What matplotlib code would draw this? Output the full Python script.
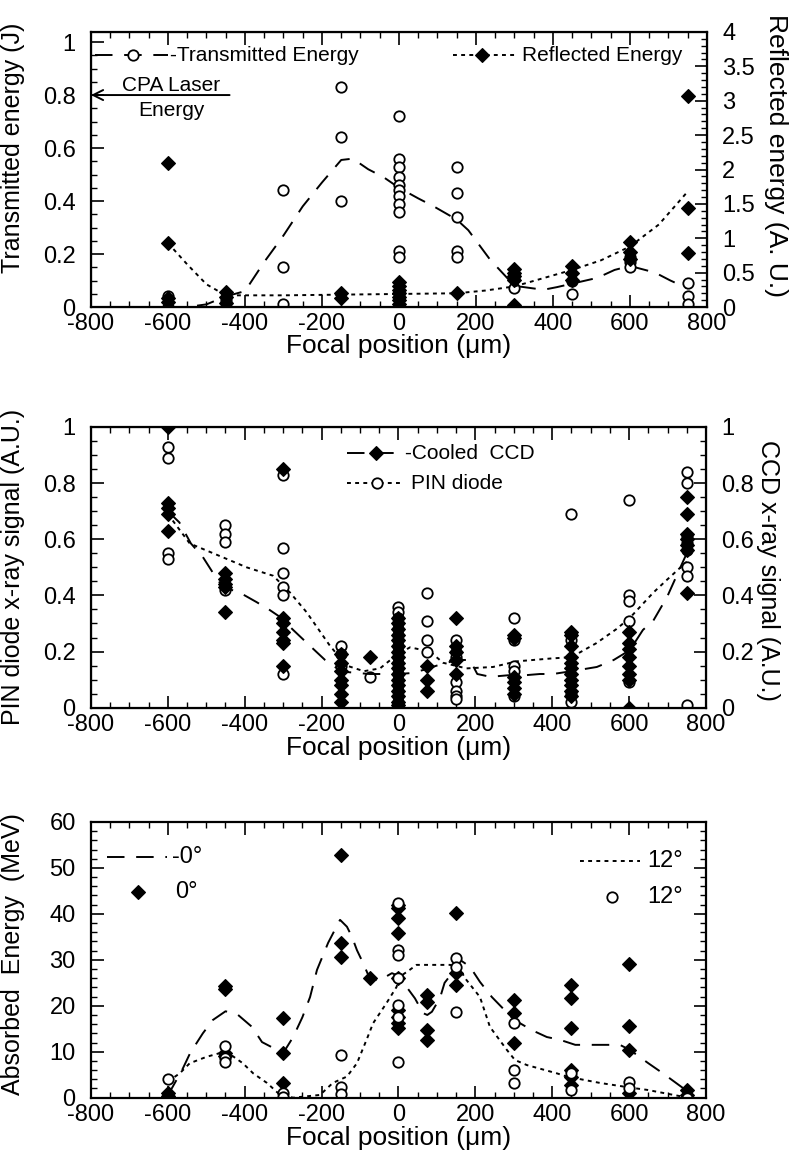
import matplotlib
matplotlib.use('Agg')
import matplotlib.pyplot as plt
from matplotlib.ticker import MultipleLocator, FuncFormatter

plt.rcParams['font.family'] = ['Liberation Sans', 'DejaVu Sans']
plt.rcParams['axes.unicode_minus'] = False

# ---------------- Panel 1: transmitted / reflected energy ----------------
trans_x = [-600, -600, -450, -450, -300, -300, -300, -150, -150, -150,
           0, 0, 0, 0, 0, 0, 0, 0, 0, 0, 0, 0, 0,
           150, 150, 150, 150, 150, 300, 300, 300, 450, 450,
           600, 600, 600, 750, 750, 750]
trans_y = [0.04, 0.0, 0.025, 0.0, 0.44, 0.15, 0.01, 0.83, 0.64, 0.40,
           0.72, 0.56, 0.53, 0.49, 0.46, 0.44, 0.42, 0.39, 0.36, 0.21, 0.19, 0.05, 0.03,
           0.53, 0.43, 0.34, 0.21, 0.19, 0.11, 0.07, 0.0, 0.10, 0.05,
           0.19, 0.17, 0.15, 0.09, 0.04, 0.01]
trans_fit_x = [-600, -550, -500, -450, -400, -350, -300, -250, -200, -150, -120, -80, -40,
               0, 50, 90, 150, 180, 236, 300, 375, 410, 515, 560, 600, 665, 705, 750]
trans_fit_y = [0.0, 0.0, 0.01, 0.04, 0.06, 0.17, 0.27, 0.38, 0.47, 0.555, 0.56, 0.52, 0.49,
               0.45, 0.41, 0.38, 0.33, 0.29, 0.18, 0.08, 0.065, 0.075, 0.11, 0.14, 0.155,
               0.13, 0.10, 0.07]

refl_x = [-600, -600, -600, -600, -450, -450, -450, -150, -150,
          0, 0, 0, 0, 0, 0, 0, 0, 150, 300, 300, 300, 300, 300,
          450, 450, 450, 600, 600, 600, 750, 750, 750]
refl_y = [2.09, 0.93, 0.13, 0.08, 0.22, 0.15, 0.06, 0.2, 0.13,
          0.37, 0.3, 0.25, 0.2, 0.15, 0.1, 0.05, 0.0, 0.2, 0.55, 0.5, 0.45, 0.4, 0.03,
          0.6, 0.5, 0.4, 0.95, 0.8, 0.7, 3.07, 1.44, 0.78]
refl_fit_x = [-600, -550, -500, -450, -300, -150, 0, 150, 225, 300, 375, 450, 525, 600, 675, 750]
refl_fit_y = [0.93, 0.62, 0.33, 0.17, 0.17, 0.18, 0.19, 0.2, 0.24, 0.3, 0.42, 0.54, 0.68,
              0.88, 1.2, 1.68]

# ---------------- Panel 2: PIN diode / cooled CCD ----------------
pin_x = ([-600] * 4 + [-450] * 4 + [-300] * 6 + [-150] * 3 + [-75] + [0] * 19 +
         [75] * 4 + [150] * 7 + [300] * 5 + [450] * 5 + [600] * 5 + [750] * 8)
pin_y = [0.93, 0.89, 0.55, 0.53,
         0.65, 0.62, 0.59, 0.42,
         0.83, 0.57, 0.48, 0.43, 0.40, 0.12,
         0.22, 0.19, 0.15,
         0.11,
         0.36, 0.34, 0.32, 0.30, 0.28, 0.26, 0.24, 0.22, 0.20, 0.18, 0.16, 0.14, 0.12,
         0.10, 0.08, 0.06, 0.04, 0.02, 0.0,
         0.41, 0.31, 0.24, 0.20,
         0.24, 0.20, 0.18, 0.09, 0.06, 0.04, 0.03,
         0.32, 0.24, 0.15, 0.13, 0.04,
         0.69, 0.26, 0.24, 0.05, 0.02,
         0.74, 0.40, 0.38, 0.31, 0.09,
         0.84, 0.80, 0.61, 0.585, 0.56, 0.50, 0.47, 0.01]
ccd_x = ([-600] * 5 + [-450] * 5 + [-300] * 7 + [-150] * 7 + [-75] + [0] * 17 +
         [75] * 3 + [150] * 5 + [300] * 6 + [450] * 11 + [600] * 8 + [750] * 7)
ccd_y = [1.0, 0.73, 0.71, 0.69, 0.63,
         0.48, 0.46, 0.44, 0.43, 0.34,
         0.85, 0.32, 0.30, 0.27, 0.24, 0.23, 0.15,
         0.19, 0.16, 0.13, 0.10, 0.08, 0.05, 0.02,
         0.18,
         0.32, 0.30, 0.28, 0.26, 0.24, 0.22, 0.20, 0.18, 0.16, 0.14, 0.12, 0.10, 0.08,
         0.06, 0.04, 0.02, 0.01,
         0.15, 0.10, 0.06,
         0.32, 0.22, 0.20, 0.17, 0.12,
         0.26, 0.25, 0.11, 0.09, 0.07, 0.05,
         0.27, 0.26, 0.22, 0.18, 0.16, 0.14, 0.12, 0.10, 0.08, 0.06, 0.04,
         0.27, 0.23, 0.21, 0.18, 0.15, 0.12, 0.10, 0.0,
         0.75, 0.69, 0.62, 0.60, 0.58, 0.56, 0.41]
pin_fit_x = [-600, -543, -447, -395, -326, -282, -239, -178, -135, -90, -48, -21, 5, 30, 82,
             116, 177, 246, 307, 394, 450, 515, 567, 602, 663, 698, 750]
pin_fit_y = [0.69, 0.585, 0.53, 0.50, 0.47, 0.41, 0.34, 0.22, 0.15, 0.13, 0.14, 0.17, 0.195,
             0.215, 0.20, 0.16, 0.14, 0.145, 0.165, 0.175, 0.18, 0.23, 0.28, 0.32, 0.41,
             0.455, 0.52]
ccd_fit_x = [-600, -570, -540, -509, -482, -457, -413, -369, -335, -308, -274, -230, -191,
             -160, -134, -75, 0, 30, 64, 100, 152, 186, 205, 239, 290, 333, 368, 402, 450,
             516, 560, 602, 636, 663, 699, 750]
ccd_fit_y = [0.70, 0.66, 0.585, 0.537, 0.479, 0.43, 0.41, 0.376, 0.348, 0.323, 0.277, 0.22,
             0.17, 0.14, 0.127, 0.12, 0.12, 0.123, 0.134, 0.15, 0.17, 0.17, 0.12, 0.11,
             0.116, 0.116, 0.12, 0.12, 0.13, 0.145, 0.17, 0.205, 0.277, 0.31, 0.395, 0.55]

# ---------------- Panel 3: absorbed energy ----------------
abs0_x = ([-600] * 2 + [-450] * 4 + [-300] * 3 + [-150] * 3 + [-75] + [0] * 9 +
          [75] * 4 + [150] * 3 + [300] * 3 + [450] * 6 + [600] * 4 + [750] * 2)
abs0_y = [1.0, 0.3,
          24.2, 23.6, 9.8, 9.0,
          17.3, 9.8, 3.2,
          52.8, 33.6, 30.7,
          26.0,
          41.9, 41.2, 39.0, 35.8, 26.0, 19.1, 17.6, 16.2, 15.1,
          22.3, 20.9, 14.7, 12.6,
          40.1, 27.1, 24.5,
          21.3, 18.4, 11.8,
          24.5, 21.6, 15.1, 6.0, 4.6, 2.8,
          29.2, 15.5, 10.4, 0.95,
          1.7, 0.5]
abs12_x = ([-600] + [-450] * 3 + [-300] * 2 + [-150] * 3 + [0] * 7 + [150] * 3 +
           [300] * 3 + [450] * 2 + [600] * 2 + [750])
abs12_y = [4.0,
           11.2, 8.7, 7.8,
           1.0, 0.2,
           9.2, 2.3, 0.8,
           42.3, 32.1, 31.0, 26.0, 20.2, 17.5, 7.8,
           30.3, 28.5, 18.7,
           16.2, 6.0, 3.1,
           5.3, 1.7,
           3.5, 2.1,
           0.0]
abs0_fit_x = [-600, -563, -542, -509, -483, -450, -420, -381, -355, -300, -274, -250, -230,
              -212, -183, -152, -134, -121, -108, -92, -73, -48, -17, 0, 43, 64, 75, 87, 108,
              120, 146, 160, 186, 212, 243, 300, 347, 386, 420, 460, 498, 542, 576, 602, 650,
              688, 750]
abs0_fit_y = [0.5, 6, 9.7, 14, 16.9, 18.8, 18.2, 15.4, 12.1, 9.7, 13.2, 17.5, 21.9, 27.8,
              33.7, 38.7, 37.2, 35, 32.1, 29.3, 25.6, 25.6, 27.1, 26.5, 21.6, 18.4, 18, 18.7,
              21.7, 25, 27.8, 30, 28.5, 25.2, 21.9, 17, 14.7, 13.2, 12.6, 11.5, 11.5, 11.5,
              11.5, 10.4, 7.5, 5.3, 1.5]
abs12_fit_x = [-600, -569, -543, -499, -465, -444, -405, -378, -342, -308, -274, -204, -171,
               -134, -108, -83, -66, -31, -5, 3, 29, 47, 134, 155, 177, 212, 238, 282, 303,
               334, 412, 438, 506, 525, 611, 647, 741, 750]
abs12_fit_y = [3.5, 5.3, 7.5, 8.9, 9.7, 9.8, 7.5, 5.3, 3.2, 0.6, 0.0, 0.6, 3.2, 4.6, 7.5,
               12.6, 16.2, 20.6, 24.1, 26.3, 27.8, 28.9, 28.9, 28.5, 25.6, 21.9, 15.4, 10.4,
               8.2, 7.1, 5.3, 4.6, 3.5, 3.2, 2.1, 1.7, 0.2, 0.2]

x_ticks = [-800, -600, -400, -200, 0, 200, 400, 600, 800]
xlabel_text = 'Focal position (\u03bcm)'

# ---------------- styles ----------------
TICK_FS = 17
LABEL_FS = 18
XLABEL_FS = 19
LEG_FS = 15
DASH = (0, (9, 6))
DOT = (0, (2, 2.2))
circ = dict(marker='o', ms=7.5, mfc='white', mec='black', mew=1.3, ls='none')
diam = dict(marker='D', ms=7, mfc='black', mec='black', mew=0.8, ls='none')
fmt = FuncFormatter(lambda v, p: '%g' % round(v, 6))


def style_x(ax, labelpad=0):
    ax.set_xlim(-800, 800)
    ax.set_xticks(x_ticks)
    ax.xaxis.set_minor_locator(MultipleLocator(50))
    ax.tick_params(axis='x', which='major', direction='in', length=9, width=1.2,
                   top=True, bottom=True, labelsize=TICK_FS, pad=4.5)
    ax.tick_params(axis='x', which='minor', direction='in', length=4.5, width=1.0,
                   top=True, bottom=True)
    ax.set_xlabel(xlabel_text, fontsize=XLABEL_FS, labelpad=labelpad)
    for s in ax.spines.values():
        s.set_linewidth(1.6)


def style_y(ax, major, minor, side='left', labels=True):
    ax.yaxis.set_major_locator(MultipleLocator(major))
    ax.yaxis.set_minor_locator(MultipleLocator(minor))
    ax.yaxis.set_major_formatter(fmt)
    kw = dict(left=(side == 'left'), right=(side == 'right'))
    if side == 'left':
        kw.update(labelleft=labels, labelright=False)
    else:
        kw.update(labelright=labels, labelleft=False)
    ax.tick_params(axis='y', which='major', direction='in', length=9, width=1.2,
                   labelsize=TICK_FS, pad=11, **kw)
    ax.tick_params(axis='y', which='minor', direction='in', length=4.5, width=1.0, **kw)


fig = plt.figure(figsize=(7.91, 11.59), dpi=100)

# ===== Panel 1 =====
ax1 = fig.add_axes([0.1150, 0.7351, 0.7788, 0.2373])
ax1r = ax1.twinx()
ax1.plot(trans_fit_x, trans_fit_y, color='black', lw=1.4, ls=DASH)
ax1.plot(trans_x, trans_y, **circ)
ax1r.plot(refl_fit_x, refl_fit_y, color='black', lw=1.4, ls=DOT)
ax1r.plot(refl_x, refl_y, **diam)
style_x(ax1, labelpad=-1)
ax1.set_ylim(0, 1.038)
ax1r.set_ylim(0, 4)
style_y(ax1, 0.2, 0.05, 'left')
style_y(ax1r, 0.5, 0.1, 'right')
ax1.set_ylabel('Transmitted energy (J)', fontsize=LABEL_FS)
ax1.yaxis.set_label_coords(-0.107, 0.58)
ax1r.set_ylabel('Reflected energy (A. U.)', fontsize=19, rotation=-90, va='center')
ax1r.yaxis.set_label_coords(1.112, 0.55)
# legends drawn in axes fraction
ax1.plot([0.006, 0.125], [0.916, 0.916], transform=ax1.transAxes, color='black', lw=1.4,
         ls=DASH)
ax1.plot([0.068], [0.916], transform=ax1.transAxes, **circ)
ax1.text(0.128, 0.916, '-Transmitted Energy', transform=ax1.transAxes, fontsize=LEG_FS,
         va='center', ha='left')
ax1.plot([0.588, 0.688], [0.916, 0.916], transform=ax1.transAxes, color='black', lw=1.4,
         ls=DOT)
ax1.plot([0.635], [0.916], transform=ax1.transAxes, **diam)
ax1.text(0.700, 0.916, 'Reflected Energy', transform=ax1.transAxes, fontsize=LEG_FS,
         va='center', ha='left')
# CPA laser arrow
ax1.annotate('', xy=(-800, 0.8), xytext=(-440, 0.8),
             arrowprops=dict(arrowstyle='->', lw=1.4, color='black', mutation_scale=18,
                             shrinkA=0, shrinkB=0))
ax1.text(-592, 0.835, 'CPA Laser', fontsize=LEG_FS, ha='center', va='center')
ax1.text(-592, 0.743, 'Energy', fontsize=LEG_FS, ha='center', va='center')

# ===== Panel 2 =====
ax2 = fig.add_axes([0.1150, 0.3894, 0.7775, 0.2422])
ax2r = ax2.twinx()
ax2r.plot(ccd_fit_x, ccd_fit_y, color='black', lw=1.4, ls=DASH)
ax2r.plot(ccd_x, ccd_y, **diam)
ax2.plot(pin_fit_x, pin_fit_y, color='black', lw=1.4, ls=DOT)
ax2.plot(pin_x, pin_y, **circ)
style_x(ax2)
ax2.set_ylim(0, 1)
ax2r.set_ylim(0, 1)
style_y(ax2, 0.2, 0.05, 'left')
style_y(ax2r, 0.2, 0.05, 'right')
ax2.set_ylabel('PIN diode x-ray signal (A.U.)', fontsize=LABEL_FS)
ax2.yaxis.set_label_coords(-0.107, 0.5)
ax2r.set_ylabel('CCD x-ray signal (A.U.)', fontsize=LABEL_FS, rotation=-90, va='center')
ax2r.yaxis.set_label_coords(1.101, 0.49)
ax2.plot([0.416, 0.507], [0.906, 0.906], transform=ax2.transAxes, color='black', lw=1.4,
         ls=DASH)
ax2.plot([0.463], [0.906], transform=ax2.transAxes, **diam)
ax2.text(0.510, 0.906, '-Cooled  CCD', transform=ax2.transAxes, fontsize=LEG_FS,
         va='center', ha='left')
ax2.plot([0.416, 0.507], [0.80, 0.80], transform=ax2.transAxes, color='black', lw=1.4,
         ls=DOT)
ax2.plot([0.465], [0.80], transform=ax2.transAxes, **circ)
ax2.text(0.520, 0.80, 'PIN diode', transform=ax2.transAxes, fontsize=LEG_FS,
         va='center', ha='left')

# ===== Panel 3 =====
ax3 = fig.add_axes([0.1150, 0.0529, 0.7775, 0.2379])
ax3.plot(abs0_fit_x, abs0_fit_y, color='black', lw=1.4, ls=DASH)
ax3.plot(abs12_fit_x, abs12_fit_y, color='black', lw=1.4, ls=DOT)
ax3.plot(abs0_x, abs0_y, **diam)
ax3.plot(abs12_x, abs12_y, **circ)
style_x(ax3)
ax3.set_ylim(0, 60)
ax3.yaxis.set_major_locator(MultipleLocator(10))
ax3.yaxis.set_minor_locator(MultipleLocator(2))
ax3.tick_params(axis='y', which='major', direction='in', length=9, width=1.2,
                labelsize=TICK_FS, pad=11, left=True, right=True)
ax3.tick_params(axis='y', which='minor', direction='in', length=4.5, width=1.0,
                left=True, right=True)
ax3.set_ylabel('Absorbed  Energy  (MeV)', fontsize=LABEL_FS)
ax3.yaxis.set_label_coords(-0.107, 0.52)
LEG3_FS = 17
ax3.plot([0.026, 0.124], [0.873, 0.873], transform=ax3.transAxes, color='black', lw=1.4,
         ls=DASH)
ax3.text(0.132, 0.873, '-0\u00b0', transform=ax3.transAxes, fontsize=LEG3_FS,
         va='center', ha='left')
ax3.plot([0.076], [0.746], transform=ax3.transAxes, **diam)
ax3.text(0.137, 0.746, '0\u00b0', transform=ax3.transAxes, fontsize=LEG3_FS,
         va='center', ha='left')
ax3.plot([0.795, 0.893], [0.859, 0.859], transform=ax3.transAxes, color='black', lw=1.4,
         ls=DOT)
ax3.text(0.905, 0.859, '12\u00b0', transform=ax3.transAxes, fontsize=LEG3_FS,
         va='center', ha='left')
ax3.plot([0.847], [0.728], transform=ax3.transAxes, **circ)
ax3.text(0.905, 0.728, '12\u00b0', transform=ax3.transAxes, fontsize=LEG3_FS,
         va='center', ha='left')

fig.savefig('out.png', dpi=100)
